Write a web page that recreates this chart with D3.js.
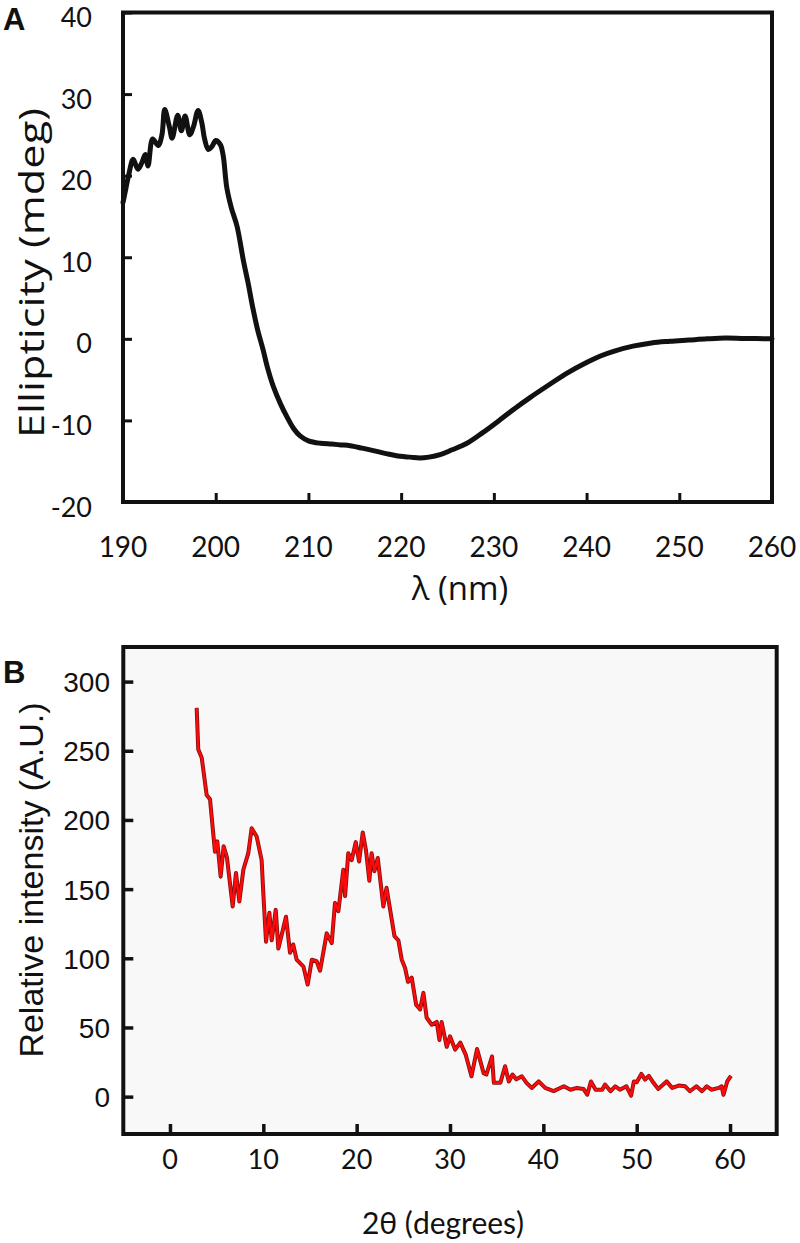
<!DOCTYPE html>
<html><head><meta charset="utf-8">
<script src="https://cdn.jsdelivr.net/npm/d3@7"></script>
<style>
html,body{margin:0;padding:0;background:#fff;}
svg{display:block;}
</style>
</head><body>
<svg id="chart" width="800" height="1243"></svg>
<script>
// ---------- Panel A: CD spectrum ----------
const cdWavelength = [190,190.2,190.6,191.1,191.6,192.0,192.4,192.7,193.2,193.8,194.2,194.5,195.0,195.3,195.9,196.3,196.7,197.2,197.6,198.1,198.5,198.8,199.2,199.6,200.0,200.5,200.8,201.2,201.7,202.3,203.0,203.5,204.0,204.5,205.1,205.6,206.2,207.0,207.7,208.4,209.1,210.0,211.3,212.5,213.5,214.5,215.8,217.0,218.5,219.9,221.0,222.0,223.0,224.2,225.5,227.1,228.8,230.7,232.3,233.9,236.0,237.9,240.0,241.5,243.0,245.0,247.0,249.0,251.0,253.0,255.0,257.0,260.0];
const cdEllipticity = [16.7,17.8,20,22,20.8,21.5,22.6,21.2,24.5,23.7,25,28.1,26,24.6,27.4,25.5,27.3,25,26,28,26.5,24.5,23.2,23.6,24.3,23.8,22.5,18.5,16,13.8,9.5,6.8,3.8,1.2,-1.3,-3.6,-5.8,-8,-9.6,-11,-11.9,-12.5,-12.8,-12.9,-13.0,-13.1,-13.4,-13.7,-14.1,-14.4,-14.5,-14.6,-14.5,-14.2,-13.6,-12.8,-11.5,-9.9,-8.5,-7.2,-5.6,-4.2,-2.9,-2.1,-1.5,-0.9,-0.5,-0.3,-0.15,0,0.1,0.05,0];
const cdXTicks = [190,200,210,220,230,240,250,260];
const cdYTicks = [-20,-10,0,10,20,30,40];

// ---------- Panel B: XRD pattern ----------
const xrdTwoTheta = [2.86,3.03,3.4,3.93,4.29,4.82,5.07,5.43,5.75,6.1,6.72,7.07,7.43,7.86,8.39,8.75,9.29,9.82,10.0,10.29,10.65,10.9,11.33,11.61,11.97,12.43,12.86,13.2,13.57,14.3,14.75,15.2,15.7,16.08,16.79,17.33,17.68,18.04,18.57,18.76,19.1,19.47,19.9,20.26,20.65,21.0,21.36,21.6,21.9,22.26,22.86,23.2,23.76,24.05,24.47,24.83,25.19,25.5,25.9,26.37,26.8,27.15,27.5,28.05,28.58,28.87,29.1,29.65,30.0,30.55,31.1,31.7,32.3,32.9,33.6,33.9,34.5,34.7,35.4,35.9,36.3,36.7,37.1,37.7,38.2,38.75,39.5,40.2,41.1,42.2,42.9,43.6,44.3,44.7,45.1,45.6,46.3,46.6,47.2,47.7,48.2,48.9,49.4,49.7,50.0,50.5,50.9,51.3,51.8,52.3,53.2,53.8,54.5,55.2,55.7,56.4,57.0,57.5,58.0,58.8,59.1,59.3,59.7,60.1];
const xrdIntensity = [281,251,245,218,215,177,184.5,159,181,173,137.5,161.6,141,164,176,194,188,171,147,112,133,113,135,107,117,130,104,110,99,94,81,99,98,91,118,111,140,134,164,145,176,171,184,170,191,178,156,176,163,172.5,137.5,151,128,116,113,99,93,83,86,66.5,63,75,57,52,54,41,54,36,43.6,34,39,30,14.7,34.5,17,16,29,10,10,22,11,16,12.5,14.7,10,6.3,11,6.3,4,7.5,5,6.3,5.6,1.4,11,5,5,8.7,4,7.5,5,7.5,0.7,11,10.4,16.4,12.3,15,10,5.6,11,6.3,8,7.5,3.9,7.5,3.9,7.5,5,6.3,7.5,1.4,11,15];
const xrdXTicks = [0,10,20,30,40,50,60];
const xrdYTicks = [0,50,100,150,200,250,300];

const svg = d3.select("#chart");
const calibri = "Lato, 'Open Sans', sans-serif";
const wide = "'Open Sans', Lato, sans-serif";
const arial = "'Liberation Sans', Arial, sans-serif";

// ===== Panel A =====
const xA = d3.scaleLinear().domain([190,260]).range([123,772]);
const yA = d3.scaleLinear().domain([-20,40]).range([502,12.5]);
const gA = svg.append("g");

const cdData = cdWavelength.map((w,i)=>({x:w,y:cdEllipticity[i]}));
gA.append("path").datum(cdData)
  .attr("fill","none").attr("stroke","#111").attr("stroke-width",5)
  .attr("stroke-linejoin","round").attr("stroke-linecap","round")
  .attr("d", d3.line().x(d=>xA(d.x)).y(d=>yA(d.y)).curve(d3.curveCatmullRom.alpha(0.5)));

const axAL = d3.axisLeft(yA).tickValues(cdYTicks).tickSize(-9).tickFormat("");
const gAL = gA.append("g").attr("transform",`translate(${xA(190)},0)`).call(axAL);
const axAB = d3.axisBottom(xA).tickValues(cdXTicks).tickSize(-9).tickFormat("");
const gAB = gA.append("g").attr("transform",`translate(0,${yA(-20)})`).call(axAB);
[gAL,gAB].forEach(g=>{g.select(".domain").remove(); g.selectAll(".tick line").attr("stroke","#111").attr("stroke-width",3);});
gA.append("rect").attr("x",xA(190)).attr("y",yA(40)).attr("width",xA(260)-xA(190)).attr("height",yA(-20)-yA(40))
  .attr("fill","none").attr("stroke","#111").attr("stroke-width",4);

gA.selectAll("text.yl").data(cdYTicks).enter().append("text")
  .attr("x",92).attr("y",d=>yA(d)+4).attr("text-anchor","end").attr("dominant-baseline","central")
  .attr("font-family",calibri).attr("font-size",27).attr("fill","#111").text(d=>d);
gA.selectAll("text.xl").data(cdXTicks).enter().append("text")
  .attr("x",d=>xA(d)).attr("y",546).attr("text-anchor","middle").attr("dominant-baseline","central")
  .attr("font-family",calibri).attr("font-size",28).attr("fill","#111").text(d=>d);
gA.append("text").attr("x",460).attr("y",600).attr("text-anchor","middle")
  .attr("font-family",wide).attr("font-size",33).attr("fill","#111").text("λ (nm)");
gA.append("text").attr("transform","translate(44,273) rotate(-90)").attr("text-anchor","middle")
  .attr("font-family",wide).attr("font-size",34).attr("textLength",330).attr("lengthAdjust","spacingAndGlyphs")
  .attr("fill","#111").text("Ellipticity (mdeg)");
svg.append("text").attr("x",3).attr("y",30).attr("font-family",arial).attr("font-weight","bold")
  .attr("font-size",31).attr("fill","#111").text("A");

// ===== Panel B =====
const xB = d3.scaleLinear().domain([-5,65]).range([123.3,776.7]);
const yB = d3.scaleLinear().domain([-27,325]).range([1134,647]);
const gB = svg.append("g");
gB.append("rect").attr("x",xB(-5)).attr("y",yB(325)).attr("width",xB(65)-xB(-5)).attr("height",yB(-27)-yB(325))
  .attr("fill","#f8f8f8");

const xrdData = xrdTwoTheta.map((t,i)=>({x:t,y:xrdIntensity[i]}));
const lineB = d3.line().x(d=>xB(d.x)).y(d=>yB(d.y));
gB.append("path").datum(xrdData).attr("fill","none").attr("stroke","#801010").attr("stroke-width",4)
  .attr("stroke-linejoin","round").attr("d",lineB);
gB.append("path").datum(xrdData).attr("fill","none").attr("stroke","#ff0a0a").attr("stroke-width",2.4)
  .attr("stroke-linejoin","round").attr("d",lineB);

const axBL = d3.axisLeft(yB).tickValues(xrdYTicks).tickSize(-10).tickFormat("");
const gBL = gB.append("g").attr("transform",`translate(${xB(-5)},0)`).call(axBL);
const axBB = d3.axisBottom(xB).tickValues(xrdXTicks).tickSize(-10).tickFormat("");
const gBB = gB.append("g").attr("transform",`translate(0,${yB(-27)})`).call(axBB);
[gBL,gBB].forEach(g=>{g.select(".domain").remove(); g.selectAll(".tick line").attr("stroke","#111").attr("stroke-width",3.5);});
gB.append("rect").attr("x",xB(-5)).attr("y",yB(325)).attr("width",xB(65)-xB(-5)).attr("height",yB(-27)-yB(325))
  .attr("fill","none").attr("stroke","#111").attr("stroke-width",4);

gB.selectAll("text.yl").data(xrdYTicks).enter().append("text")
  .attr("x",110).attr("y",d=>yB(d)+1).attr("text-anchor","end").attr("dominant-baseline","central")
  .attr("font-family",arial).attr("font-size",28).attr("fill","#111").text(d=>d);
gB.selectAll("text.xl").data(xrdXTicks).enter().append("text")
  .attr("x",d=>xB(d)).attr("y",1158).attr("text-anchor","middle").attr("dominant-baseline","central")
  .attr("font-family",calibri).attr("font-size",27).attr("fill","#111").text(d=>d);
gB.append("text").attr("x",443).attr("y",1234).attr("text-anchor","middle")
  .attr("font-family",calibri).attr("font-size",30).attr("fill","#111").text("2θ (degrees)");
gB.append("text").attr("transform","translate(43,880) rotate(-90)").attr("text-anchor","middle")
  .attr("font-family",arial).attr("font-size",34).attr("fill","#111").text("Relative intensity (A.U.)");
svg.append("text").attr("x",3).attr("y",683).attr("font-family",arial).attr("font-weight","bold")
  .attr("font-size",31).attr("fill","#111").text("B");
</script>
</body></html>
